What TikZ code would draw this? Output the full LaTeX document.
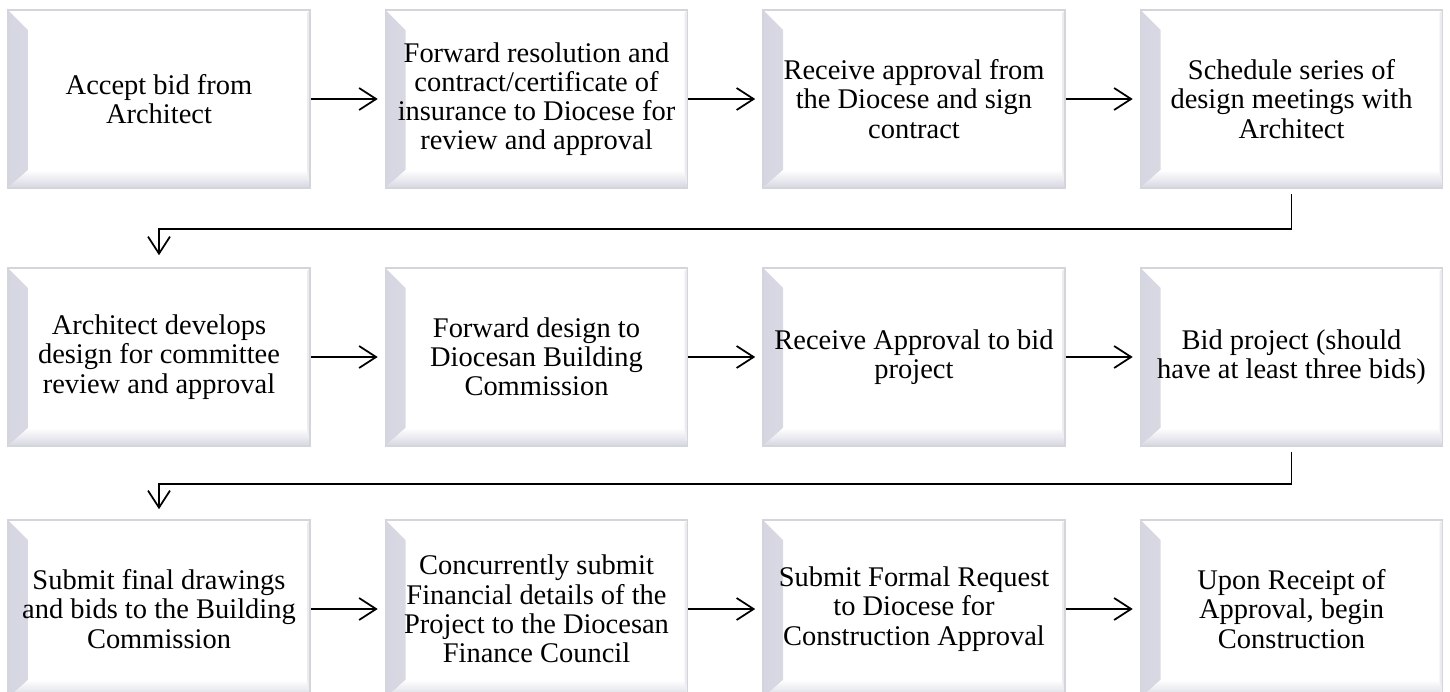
\documentclass[tikz,border=0pt]{standalone}
\usepackage{fontspec}
\setmainfont{Liberation Serif}
\usetikzlibrary{arrows.meta}
\definecolor{bevelgray}{RGB}{214,214,226}
\definecolor{edgegray}{RGB}{210,213,218}
\tikzset{
  stepbox/.style={rectangle, draw=edgegray, line width=0.9pt, fill=white,
    minimum width=6.04cm, minimum height=3.56cm, align=center,
    font=\fontsize{16.2}{16.6}\selectfont,
    path picture={
      % left bevel
      \shade[left color=bevelgray, right color=white]
        (path picture bounding box.south west) -- (path picture bounding box.north west)
        -- ([shift={(0.4,-0.4)}]path picture bounding box.north west)
        -- ([shift={(0.4,0.36)}]path picture bounding box.south west) -- cycle;
      % bottom bevel
      \shade[top color=white, bottom color=bevelgray]
        (path picture bounding box.south west)
        -- ([shift={(0.4,0.36)}]path picture bounding box.south west)
        -- ([shift={(-0.06,0.36)}]path picture bounding box.south east)
        -- (path picture bounding box.south east) -- cycle;
      % right bevel
      \fill[bevelgray!50]
        (path picture bounding box.north east) -- (path picture bounding box.south east)
        -- ([shift={(-0.06,0.36)}]path picture bounding box.south east)
        -- ([shift={(-0.06,-0.06)}]path picture bounding box.north east) -- cycle;
    }},
  flowarrow/.style={line width=1pt, -{Straight Barb[length=3.4mm, width=4.4mm, line width=1pt]},
    shorten >=0.14cm}
}
\begin{document}
\begin{tikzpicture}
  \useasboundingbox (0,0) rectangle (29,-13.82);

  % first row
  \node[stepbox] (accept) at (3.18,-1.98) {Accept bid from\\Architect};
  \node[stepbox] (forward) at (10.73,-1.98) {Forward resolution and\\contract/certificate of\\insurance to Diocese for\\review and approval};
  \node[stepbox] (approval) at (18.28,-1.98) {Receive approval from\\the Diocese and sign\\contract};
  \node[stepbox] (schedule) at (25.83,-1.98) {Schedule series of\\design meetings with\\Architect};

  % second row
  \node[stepbox] (develops) at (3.18,-7.14) {Architect develops\\design for committee\\review and approval};
  \node[stepbox] (commission) at (10.73,-7.14) {Forward design to\\Diocesan Building\\Commission};
  \node[stepbox] (bidok) at (18.28,-7.14) {Receive Approval to bid\\project};
  \node[stepbox] (bidproject) at (25.83,-7.14) {Bid project (should\\have at least three bids)};

  % third row
  \node[stepbox] (drawings) at (3.18,-12.18) {Submit final drawings\\and bids to the Building\\Commission};
  \node[stepbox] (finance) at (10.73,-12.18) {Concurrently submit\\Financial details of the\\Project to the Diocesan\\Finance Council};
  \node[stepbox] (request) at (18.28,-12.18) {Submit Formal Request\\to Diocese for\\Construction Approval};
  \node[stepbox] (construct) at (25.83,-12.18) {Upon Receipt of\\Approval, begin\\Construction};

  % arrows along the rows
  \draw[flowarrow] (accept) -- (forward);
  \draw[flowarrow] (forward) -- (approval);
  \draw[flowarrow] (approval) -- (schedule);
  \draw[flowarrow] (develops) -- (commission);
  \draw[flowarrow] (commission) -- (bidok);
  \draw[flowarrow] (bidok) -- (bidproject);
  \draw[flowarrow] (drawings) -- (finance);
  \draw[flowarrow] (finance) -- (request);
  \draw[flowarrow] (request) -- (construct);

  % row changes
  \draw[flowarrow, shorten <=0.1cm, shorten >=0.24cm] (schedule.south) -- ++(0,-0.8) -| (develops.north);
  \draw[flowarrow, shorten <=0.1cm, shorten >=0.2cm] (bidproject.south) -- ++(0,-0.74) -| (drawings.north);
\end{tikzpicture}
\end{document}
